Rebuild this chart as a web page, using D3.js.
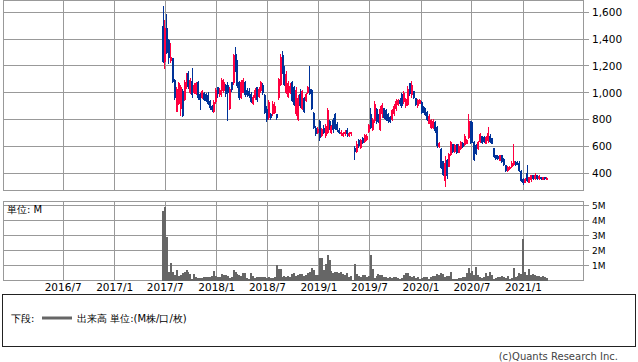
<!DOCTYPE html>
<html>
<head>
<meta charset="utf-8">
<script src="https://cdn.jsdelivr.net/npm/d3@7"></script>
<style>
  body { margin: 0; background: #fff; }
  text { font-family: "DejaVu Sans", sans-serif; fill: #000; }
</style>
</head>
<body>
<svg id="chart" width="638" height="362"></svg>
<script>
// weekly candles from 2017/6/23, null = no trading that week
var openP = [1500,1230,1480,1390,1235,1257,1095,860,920,880,1010,950,1040,1150,1000,1090,996,990,1080,990,
  960,1000,990,980,940,900,860,930,1040,980,1010,1010,1058,1060,880,1080,1070,1290,1200,1083,
  960,1000,1083,1020,1010,990,920,960,1040,970,1010,1060,980,880,810,840,840,850,840,960,
  1060,1280,1190,1000,970,1000,1080,1040,840,800,990,880,960,940,1000,1030,1020,850,740,700,
  790,680,740,680,700,790,700,800,840,770,720,690,680,690,720,680,690,null,590,560,
  650,585,665,630,645,705,840,720,790,880,840,720,840,885,870,845,820,800,840,880,
  910,950,990,930,900,910,1070,980,1010,960,900,920,935,895,885,860,770,735,740,785,
  745,595,580,490,340,500,450,540,615,560,615,555,580,628,610,620,660,790,770,630,
  610,580,635,675,670,620,640,680,660,585,535,530,495,535,510,460,420,430,445,460,
  485,480,480,420,360,330,400,330,350,385,355,385,355,370,350,370,350];
var highP = [1650,1545,1590,1400,1370,1262,1100,1045,1083,1060,1030,1095,1150,1165,1110,1185,1071,1083,1085,1000,
  1021,1005,996,1008,946,910,946,1033,1045,1033,1108,1100,1065,1080,1045,1083,1290,1345,1244,1090,
  1095,1108,1090,1033,1033,1008,983,1033,1045,1040,1090,1070,990,900,950,850,940,930,845,1110,
  1290,1310,1200,1160,1090,1070,1090,1050,1040,980,1030,1020,965,1000,1050,1200,1030,855,750,745,
  795,740,760,770,890,800,760,810,850,780,740,720,710,720,740,710,710,null,600,640,
  655,655,670,692,692,765,890,815,940,885,845,901,926,889,876,852,827,876,914,951,
  951,960,1000,1012,963,1049,1074,1086,1012,963,951,951,938,901,889,864,840,802,802,790,
  753,630,585,494,531,506,555,642,617,617,617,615,641,632,691,653,843,792,780,640,
  615,640,704,679,679,679,742,690,666,590,540,540,540,540,514,464,451,451,489,615,
  489,489,489,426,362,362,463,375,388,388,400,388,388,375,375,375,370];
var lowP = [1220,1180,1290,1215,1225,1070,946,855,909,830,817,940,1030,1030,990,960,990,983,946,872,
  955,940,930,909,872,859,847,920,960,970,970,1000,971,790,872,1008,1060,1157,1033,946,
  955,996,971,971,959,922,909,946,934,960,1000,980,840,780,800,800,830,840,800,950,
  1050,1140,1050,990,960,990,930,900,830,790,890,870,850,930,990,980,870,730,680,690,
  640,670,690,665,690,720,690,700,720,710,690,680,670,680,670,670,680,null,500,550,
  590,580,615,625,640,700,728,715,778,765,778,716,815,802,790,778,778,790,827,864,
  900,900,889,914,889,901,975,963,951,901,889,914,840,852,827,790,765,728,728,704,
  592,592,432,383,296,358,444,531,555,555,543,552,577,590,603,615,653,615,628,489,
  539,577,628,615,628,615,628,625,615,514,501,501,489,476,451,413,413,426,438,451,
  451,464,413,337,312,324,337,324,337,350,350,350,350,350,350,350,350];
var closeP = [1230,1480,1300,1260,1265,1080,960,1030,1070,1040,830,1080,1140,1040,1095,980,1060,1075,960,950,
  1010,950,940,920,885,870,935,1020,990,1020,1095,1080,990,1000,1030,1020,1280,1170,1050,960,
  1080,1095,985,985,975,935,970,1020,950,1030,1080,1000,850,800,930,810,920,900,810,1100,
  1270,1160,1060,1140,1070,1050,940,910,1020,960,900,1010,860,990,1040,990,880,740,690,730,
  660,730,700,750,870,740,750,720,730,720,700,710,700,710,690,700,705,null,560,620,
  600,645,625,685,680,760,740,800,920,780,790,880,910,815,800,790,785,870,900,940,
  945,915,900,1000,955,1030,990,1060,960,910,945,945,850,860,835,800,830,795,790,715,
  605,625,440,390,480,380,545,630,560,610,550,605,630,595,680,648,790,625,640,500,
  545,630,690,625,635,670,700,630,620,525,510,505,535,485,460,420,445,448,480,490,
  460,468,420,345,325,355,345,370,385,355,390,360,380,355,370,355,365];
// weekly volume, millions
var volume = [4.67,4.93,2.93,0.6,1.2,0.6,0.38,0.71,0.31,0.38,0.5,0.6,0.71,0.6,0.44,0.09,0.44,0.22,0.16,0.16,
  0.16,0.22,0.27,0.22,0.22,0.31,0.64,0.31,0.27,0.27,0.44,0.38,0.38,0.31,0.16,0.22,0.71,0.6,0.44,0.38,
  0.31,0.53,0.53,0.16,0.09,0.53,0.31,0.16,0.22,0.22,0.27,0.27,0.27,0.16,0.27,0.16,0.16,0.22,1.04,0.76,
  0.76,0.27,0.31,0.27,0.31,0.27,0.44,0.53,0.31,0.38,0.44,0.44,0.31,0.38,0.53,0.6,0.82,0.71,0.38,0.38,
  1.49,1.49,0.71,1.11,1.71,1.38,0.67,0.53,0.6,0.6,0.49,0.6,0.44,0.38,0.49,0.27,0.31,0.05,1.11,0.44,
  0.31,0.27,0.38,0.38,0.22,0.31,1.71,0.76,0.16,0.31,0.44,0.38,0.38,0.27,0.22,0.16,0.27,0.16,0.22,0.22,
  0.16,0.09,0.16,0.38,0.49,0.49,0.31,0.22,0.31,0.16,0.22,0.09,0.16,0.22,0.22,0.22,0.09,0.22,0.31,0.31,
  0.44,0.38,0.53,0.44,0.22,0.31,0.31,0.6,0.09,0.09,0.09,0.16,0.16,0.22,0.27,0.49,0.82,0.49,0.67,0.38,
  0.93,0.38,0.22,0.16,0.27,0.53,0.31,0.6,0.38,0.09,0.16,0.27,0.22,0.31,0.22,0.16,0.31,0.09,0.16,0.82,
  0.27,0.31,0.53,0.44,2.76,0.6,0.38,0.76,0.38,0.44,0.38,0.31,0.31,0.22,0.31,0.27,0.16];

var monthLabels = ["2016/7","2017/1","2017/7","2018/1","2018/7","2019/1","2019/7","2020/1","2020/7","2021/1"];
var priceTicks = [400,600,800,1000,1200,1400,1600];
var volumeTicks = [1,2,3,4,5];

var width = 638, height = 362;
var left = 3, right = 583;
var priceTop = 0.5, priceBottom = 190;
var volTop = 201.5, volBottom = 280.5;
var gridColor = "#999999";
var upColor = "#ff0040", downColor = "#003399";

var parseMonth = d3.timeParse("%Y/%m");

var data = openP.map(function(o, i) {
    return {
        date: new Date(2017, 5, 23 + 7 * i),
        open: o, high: highP[i], low: lowP[i], close: closeP[i],
        volume: volume[i]
    };
});

var x = d3.scaleTime()
    .domain([new Date(2015, 10, 29), new Date(2021, 7, 2)])
    .range([left, right]);

var y = d3.scaleLinear()
    .domain([400, 1600])
    .range([173.3, 12.3]);

var yv = d3.scaleLinear()
    .domain([0, 5])
    .range([280.7, 205.7]);

var crisp = function(v) { return Math.round(v - 0.5) + 0.5; };

var svg = d3.select("#chart");

// panel frames + grids
function grid(top, bottom, scale, ticks, fmt, fontSize) {
    var g = svg.append("g").attr("shape-rendering", "crispEdges");

    g.selectAll(".vgrid")
        .data(monthLabels)
      .enter().append("line")
        .attr("x1", function(d) { return crisp(x(parseMonth(d))); })
        .attr("x2", function(d) { return crisp(x(parseMonth(d))); })
        .attr("y1", top)
        .attr("y2", bottom)
        .attr("stroke", gridColor);

    g.selectAll(".hgrid")
        .data(ticks)
      .enter().append("line")
        .attr("x1", left)
        .attr("x2", right + 6)
        .attr("y1", function(d) { return crisp(scale(d)); })
        .attr("y2", function(d) { return crisp(scale(d)); })
        .attr("stroke", gridColor);

    g.append("rect")
        .attr("x", left + 0.5)
        .attr("y", top)
        .attr("width", right - left)
        .attr("height", bottom - top)
        .attr("fill", "none")
        .attr("stroke", gridColor);

    svg.append("g").selectAll("text")
        .data(ticks)
      .enter().append("text")
        .attr("x", 592)
        .attr("y", function(d) { return scale(d); })
        .attr("dy", "0.36em")
        .style("font-size", fontSize)
        .text(fmt);
}

grid(priceTop, priceBottom, y, priceTicks, d3.format(","), "10.5px");
grid(volTop, volBottom, yv, volumeTicks, function(d) { return d + "M"; }, "9px");

// candles
var candles = svg.append("g")
    .attr("shape-rendering", "crispEdges")
  .selectAll("g")
    .data(data.filter(function(d) { return d.open != null; }))
  .enter().append("g")
    .attr("fill", function(d) { return d.close >= d.open ? upColor : downColor; })
    .attr("stroke", function(d) { return d.close >= d.open ? upColor : downColor; });

candles.append("line")
    .attr("x1", function(d) { return crisp(x(d.date)); })
    .attr("x2", function(d) { return crisp(x(d.date)); })
    .attr("y1", function(d) { return y(d.high); })
    .attr("y2", function(d) { return y(d.low); });

candles.append("rect")
    .attr("stroke", "none")
    .attr("x", function(d) { return Math.round(x(d.date)) - 1; })
    .attr("width", 2)
    .attr("y", function(d) { return y(Math.max(d.open, d.close)); })
    .attr("height", function(d) { return Math.max(1, Math.abs(y(d.open) - y(d.close))); });

// volume bars
svg.append("g")
    .attr("shape-rendering", "crispEdges")
  .selectAll("rect")
    .data(data)
  .enter().append("rect")
    .attr("x", function(d) { return Math.round(x(d.date)) - 1; })
    .attr("width", 2)
    .attr("y", function(d) { return yv(d.volume); })
    .attr("height", function(d) { return yv(0) - yv(d.volume); })
    .attr("fill", "#666666");

svg.append("text")
    .attr("x", 7)
    .attr("y", 213)
    .style("font-size", "10px")
    .text("単位: M");

// month labels
svg.append("g").selectAll("text")
    .data(monthLabels)
  .enter().append("text")
    .attr("x", function(d) { return x(parseMonth(d)); })
    .attr("y", 291)
    .attr("text-anchor", "middle")
    .style("font-size", "10.5px")
    .text(function(d) { return d; });

// legend
svg.append("rect")
    .attr("x", 2.5)
    .attr("y", 294.5)
    .attr("width", 633)
    .attr("height", 52)
    .attr("fill", "none")
    .attr("stroke", "#222");

svg.append("text")
    .attr("x", 11)
    .attr("y", 322)
    .style("font-size", "10px")
    .text("下段:");

svg.append("line")
    .attr("x1", 42)
    .attr("x2", 72)
    .attr("y1", 318)
    .attr("y2", 318)
    .attr("stroke", "#666666")
    .attr("stroke-width", 3);

svg.append("text")
    .attr("x", 77)
    .attr("y", 322)
    .style("font-size", "10px")
    .text("出来高 単位:(M株/口/枚)");

svg.append("text")
    .attr("x", 618)
    .attr("y", 360)
    .attr("text-anchor", "end")
    .style("font-size", "10px")
    .style("fill", "#444")
    .text("(c)Quants Research Inc.");
</script>
</body>
</html>
